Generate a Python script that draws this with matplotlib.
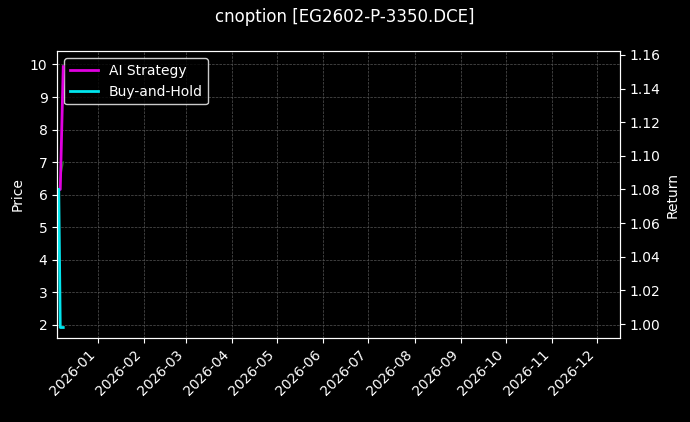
import matplotlib
matplotlib.use("Agg")
import matplotlib.pyplot as plt
import matplotlib.dates as mdates
import numpy as np
import datetime as dt

dates = [dt.date(2025, 12, 6), dt.date(2025, 12, 7), dt.date(2025, 12, 9)]
price = [6.0, 6.5, 7.0]
ai_return = [1.08, 1.08, 1.153]
bh_return = [1.08, 0.998, 0.998]

fig, ax = plt.subplots(figsize=(6.9, 4.22), dpi=100)
fig.patch.set_facecolor("black")
ax.set_facecolor("black")
ax2 = ax.twinx()
ax.plot(dates, price, color="#1a7a1a", lw=1)
l1, = ax2.plot(dates, ai_return, color="#e000e0", lw=2, label="AI Strategy")
l2, = ax2.plot(dates, bh_return, color="#00e5ee", lw=2, label="Buy-and-Hold")
ax.set_ylim(1.6, 10.4)
ax2.set_ylim(0.992, 1.162)
ax.set_yticks(range(2, 11))
ax2.set_yticks(np.arange(1.0, 1.161, 0.02))
ax2.yaxis.set_major_formatter(matplotlib.ticker.FormatStrFormatter("%.2f"))
ax.set_xlim(dt.date(2025, 12, 5), dt.date(2026, 12, 16))
ax.xaxis.set_major_locator(mdates.MonthLocator())
ax.xaxis.set_major_formatter(mdates.DateFormatter("%Y-%m"))
for lbl in ax.get_xticklabels():
    lbl.set_rotation(45); lbl.set_ha("right")
for a in (ax, ax2):
    a.tick_params(colors="white")
    for s in a.spines.values():
        s.set_color("white")
ax.grid(True, color="#555555", ls="--", lw=0.5)
ax.set_ylabel("Price", color="white")
ax2.set_ylabel("Return", color="white")
fig.suptitle("cnoption [EG2602-P-3350.DCE]", color="white")
leg = ax.legend(handles=[l1, l2], loc="upper left", facecolor="black", edgecolor="white", labelcolor="white")
fig.subplots_adjust(left=0.083, right=0.898, top=0.878, bottom=0.2)
fig.savefig("out.png", facecolor="black")
